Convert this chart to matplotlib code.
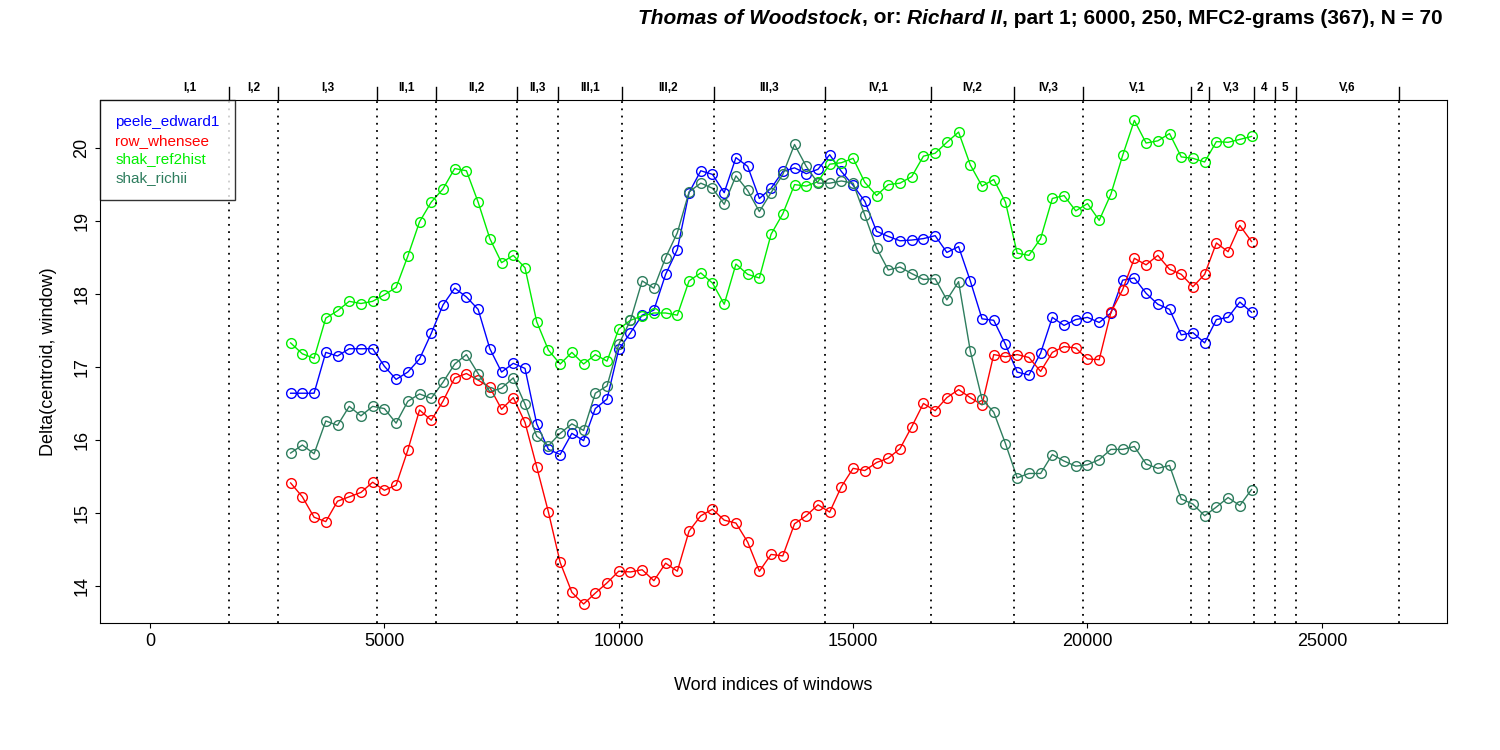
import numpy as np
import matplotlib
matplotlib.use("Agg")
import matplotlib.pyplot as plt

plt.rcParams.update({"font.family": "Liberation Sans", "font.size": 13})

# window positions (word index of window centres)
x = np.arange(3000, 23501, 250)

peele_edward1 = [16.64, 16.64, 16.64, 17.20, 17.15, 17.25, 17.25, 17.25, 17.01, 16.83,
                 16.93, 17.11, 17.46, 17.85, 18.08, 17.96, 17.79, 17.25, 16.93, 17.05,
                 16.98, 16.22, 15.87, 15.80, 16.09, 15.99, 16.43, 16.56, 17.24, 17.47,
                 17.71, 17.78, 18.27, 18.61, 19.39, 19.69, 19.64, 19.39, 19.87, 19.75,
                 19.31, 19.45, 19.68, 19.73, 19.65, 19.71, 19.91, 19.68, 19.49, 19.27,
                 18.86, 18.79, 18.73, 18.74, 18.76, 18.80, 18.57, 18.65, 18.18, 17.66,
                 17.64, 17.31, 16.93, 16.89, 17.19, 17.68, 17.57, 17.65, 17.68, 17.61,
                 17.74, 18.19, 18.22, 18.01, 17.86, 17.79, 17.44, 17.47, 17.33, 17.65,
                 17.68, 17.89, 17.75]
row_whensee = [15.41, 15.22, 14.94, 14.88, 15.16, 15.22, 15.28, 15.42, 15.31, 15.38,
               15.86, 16.41, 16.27, 16.53, 16.85, 16.91, 16.82, 16.72, 16.42, 16.58,
               16.24, 15.63, 15.01, 14.32, 13.91, 13.75, 13.90, 14.04, 14.20, 14.19,
               14.22, 14.07, 14.31, 14.20, 14.75, 14.96, 15.05, 14.90, 14.86, 14.60,
               14.20, 14.43, 14.41, 14.85, 14.96, 15.11, 15.01, 15.36, 15.61, 15.58,
               15.69, 15.75, 15.88, 16.18, 16.50, 16.40, 16.58, 16.69, 16.58, 16.48,
               17.17, 17.14, 17.17, 17.13, 16.94, 17.20, 17.28, 17.26, 17.11, 17.10,
               17.75, 18.06, 18.49, 18.40, 18.53, 18.34, 18.27, 18.10, 18.27, 18.70,
               18.58, 18.94, 18.72]
shak_ref2hist = [17.33, 17.18, 17.12, 17.67, 17.77, 17.90, 17.87, 17.90, 17.99, 18.09,
                 18.52, 18.99, 19.26, 19.44, 19.72, 19.69, 19.26, 18.76, 18.43, 18.53,
                 18.36, 17.62, 17.23, 17.04, 17.20, 17.04, 17.17, 17.08, 17.52, 17.64,
                 17.70, 17.74, 17.74, 17.71, 18.18, 18.29, 18.15, 17.86, 18.41, 18.27,
                 18.22, 18.82, 19.10, 19.50, 19.48, 19.54, 19.78, 19.80, 19.86, 19.53,
                 19.35, 19.50, 19.52, 19.61, 19.89, 19.93, 20.08, 20.22, 19.77, 19.48,
                 19.57, 19.26, 18.56, 18.53, 18.76, 19.31, 19.35, 19.14, 19.24, 19.01,
                 19.37, 19.90, 20.38, 20.07, 20.10, 20.20, 19.88, 19.86, 19.81, 20.09,
                 20.08, 20.12, 20.16]
shak_richii = [15.82, 15.93, 15.81, 16.26, 16.20, 16.46, 16.33, 16.46, 16.43, 16.23,
               16.53, 16.63, 16.57, 16.79, 17.04, 17.17, 16.91, 16.66, 16.71, 16.85,
               16.49, 16.05, 15.92, 16.09, 16.22, 16.13, 16.64, 16.74, 17.31, 17.64,
               18.18, 18.08, 18.50, 18.84, 19.40, 19.52, 19.45, 19.23, 19.62, 19.42,
               19.13, 19.39, 19.64, 20.05, 19.75, 19.52, 19.52, 19.55, 19.52, 19.08,
               18.63, 18.33, 18.37, 18.28, 18.20, 18.21, 17.92, 18.17, 17.22, 16.56,
               16.38, 15.95, 15.48, 15.54, 15.54, 15.80, 15.71, 15.64, 15.66, 15.73,
               15.87, 15.87, 15.91, 15.67, 15.61, 15.65, 15.19, 15.12, 14.96, 15.08,
               15.21, 15.10, 15.32]

# scene boundaries (word index) and labels
bounds = [0, 1685, 2730, 4842, 6101, 7829, 8703, 10068, 12031, 14398, 16660,
          18430, 19901, 22206, 22590, 23550, 24000, 24445, 26643]
scenes = ["I,1", "I,2", "I,3", "II,1", "II,2", "II,3", "III,1", "III,2", "III,3",
          "IV,1", "IV,2", "IV,3", "V,1", "2", "V,3", "4", "5", "V,6"]

series = [("peele_edward1", peele_edward1, "#0000ff"),
          ("row_whensee", row_whensee, "#ff0000"),
          ("shak_ref2hist", shak_ref2hist, "#00ee00"),
          ("shak_richii", shak_richii, "#2e7d5e")]

fig = plt.figure(figsize=(15, 7.5), dpi=100)
ax = fig.add_axes([100 / 1500, 1 - 623 / 750, 1347 / 1500, 523 / 750])

for name, vals, col in series:
    ax.plot(x, vals, color=col, lw=1, marker="o", ms=7, mfc="none", mew=1, label=name)

for b in bounds[1:]:
    ax.axvline(b, color="black", ls=(0, (1, 3)), lw=1.3)

ax.set_xlim(-1067, 27670)
ax.set_ylim(13.49, 20.66)
ax.set_xticks([0, 5000, 10000, 15000, 20000, 25000])
ax.set_yticks([14, 15, 16, 17, 18, 19, 20])
ax.tick_params(axis="y", labelrotation=90)
for lab in ax.get_yticklabels():
    lab.set_va("center")
ax.set_xlabel("Word indices of windows", labelpad=20)
ax.set_ylabel("Delta(centroid, window)", labelpad=12)

# scene labels above the plot
trans = ax.get_xaxis_transform()
for b in bounds[1:]:
    ax.plot([b, b], [1.0, 1.025], color="black", lw=1, transform=trans, clip_on=False)
for i, s in enumerate(scenes):
    ax.text((bounds[i] + bounds[i + 1]) / 2, 1.012, s, transform=trans, ha="center",
            va="bottom", fontsize=8.5, fontweight="bold")

leg = ax.legend(loc="upper left", handlelength=0, handletextpad=0, markerscale=0,
                fancybox=False, edgecolor="black", fontsize=11, borderaxespad=0,
                borderpad=1.0, labelspacing=0.3)
leg.get_frame().set_linewidth(1)
for t, (_, _, col) in zip(leg.get_texts(), series):
    t.set_color(col)
for h in leg.legend_handles:
    h.set_visible(False)

# title made of italic and plain bold pieces, right aligned
pieces = [("Thomas of Woodstock", "italic"), (", or: ", "normal"), ("Richard II", "italic"),
          (", part 1; 6000, 250, MFC2-grams (367), N = 70", "normal")]
fig.canvas.draw()
r = fig.canvas.get_renderer()
xr = 1443 / 1500
for txt, style in reversed(pieces):
    t = fig.text(xr, 1 - 18 / 750, txt, ha="right", va="center", fontsize=15,
                 fontweight="bold", fontstyle=style)
    w = t.get_window_extent(r).width
    xr -= w / 1500

fig.savefig("out.png")
